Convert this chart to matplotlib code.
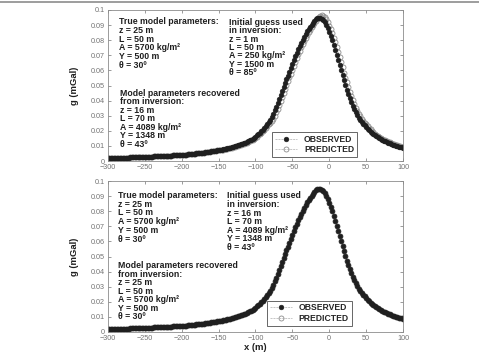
import numpy as np
import matplotlib
matplotlib.use("Agg")
import matplotlib.pyplot as plt
from matplotlib.lines import Line2D

plt.rcParams['font.family'] = ['Liberation Sans', 'DejaVu Sans']

# station positions (m), every 2 m
x = np.arange(-300, 101, 2)

# observed anomaly (mGal)
g_obs = [
    .0020, .0020, .0020, .0021, .0021, .0021, .0021, .0022, .0022, .0022,
    .0022, .0023, .0023, .0023, .0023, .0024, .0024, .0024, .0025, .0025,
    .0025, .0026, .0026, .0026, .0027, .0027, .0028, .0028, .0028, .0029,
    .0029, .0030, .0030, .0031, .0031, .0032, .0032, .0033, .0033, .0034,
    .0034, .0035, .0036, .0036, .0037, .0038, .0038, .0039, .0040, .0040,
    .0041, .0042, .0043, .0043, .0044, .0045, .0046, .0047, .0048, .0049,
    .0050, .0051, .0052, .0053, .0055, .0056, .0057, .0059, .0060, .0062,
    .0063, .0065, .0066, .0068, .0070,
    .0072, .0074, .0076, .0078, .0080, .0082, .0084, .0086, .0089, .0092,
    .0094, .0097, .0100, .0103, .0107, .0110, .0114, .0118, .0122, .0127,
    .0132, .0137, .0142, .0148, .0155,
    .0162, .0170, .0178, .0187, .0197, .0208, .0219, .0230, .0242, .0256,
    .0270, .0290, .0312, .0335, .0359, .0384, .0410, .0436, .0462, .0488,
    .0514, .0540, .0566, .0592, .0618, .0644, .0669, .0694, .0718, .0741,
    .0763, .0784, .0804, .0823, .0841, .0858, .0873, .0887, .0902, .0916,
    .0928, .0938, .0946, .0950, .0949, .0943, .0933, .0919, .0901, .0880,
    .0856, .0830, .0801, .0770, .0738, .0705, .0671, .0637, .0603, .0569,
    .0536, .0504, .0473, .0443, .0414, .0388, .0364, .0342, .0322, .0304,
    .0288, .0273, .0260, .0248, .0236, .0225, .0214, .0204, .0195, .0186,
    .0178, .0170, .0163, .0157, .0151, .0145, .0140, .0135, .0130, .0125,
    .0121, .0117, .0113, .0109, .0106, .0102, .0099, .0096, .0093, .0090, .0087,
]

# predicted from the initial guess run (top panel)
g_pred_top = [
    .0020, .0020, .0020, .0021, .0021, .0021, .0021, .0022, .0022, .0022,
    .0022, .0023, .0023, .0023, .0023, .0024, .0024, .0024, .0025, .0025,
    .0025, .0026, .0026, .0026, .0027, .0027, .0028, .0028, .0028, .0029,
    .0029, .0030, .0030, .0031, .0031, .0032, .0032, .0033, .0033, .0034,
    .0034, .0035, .0036, .0036, .0037, .0038, .0038, .0039, .0040, .0040,
    .0041, .0042, .0043, .0043, .0044, .0045, .0046, .0047, .0048, .0049,
    .0050, .0051, .0052, .0053, .0055, .0056, .0057, .0059, .0060, .0062,
    .0063, .0065, .0066, .0068, .0070,
    .0070, .0072, .0074, .0076, .0078, .0080, .0082, .0084, .0086, .0089,
    .0092, .0094, .0097, .0100, .0103, .0107, .0110, .0114, .0118, .0122,
    .0127, .0132, .0137, .0142, .0148,
    .0155, .0162, .0170, .0178, .0187, .0197, .0208, .0219, .0230, .0242,
    .0249, .0263, .0280, .0301, .0323, .0347, .0371, .0397, .0423, .0449,
    .0475, .0501, .0527, .0553, .0579, .0605, .0631, .0656, .0681, .0706,
    .0731, .0754, .0776, .0797, .0817, .0836, .0854, .0870, .0886, .0901,
    .0915, .0928, .0940, .0951, .0960, .0965, .0963, .0954, .0939, .0920,
    .0897, .0872, .0845, .0816, .0786, .0754, .0722, .0688, .0654, .0620,
    .0586, .0552, .0520, .0488, .0458, .0428, .0401, .0376, .0353, .0332,
    .0313, .0296, .0280, .0266, .0254, .0242, .0230, .0219, .0209, .0199,
    .0190, .0182, .0174, .0167, .0160, .0154, .0148, .0142, .0137, .0132,
    .0127, .0123, .0119, .0115, .0111, .0107, .0104, .0100, .0097, .0094, .0091,
]

# after the final inversion the prediction falls on the observed values
g_pred_bottom = list(g_obs)

xticks = [-300, -250, -200, -150, -100, -50, 0, 50, 100]
yticks = [0, 0.01, 0.02, 0.03, 0.04, 0.05, 0.06, 0.07, 0.08, 0.09, 0.1]
ytick_labels = ['0', '0.01', '0.02', '0.03', '0.04', '0.05', '0.06',
                '0.07', '0.08', '0.09', '0.1']

true_txt = ['True model parameters:', 'z = 25 m', 'L = 50 m',
            'A = 5700 kg/m\u00b2', 'Y = 500 m', '\u03b8 = 30\u00ba']
init_top = ['Initial guess used', 'in inversion:', 'z = 1 m', 'L = 50 m',
            'A = 250 kg/m\u00b2', 'Y = 1500 m', '\u03b8 = 85\u00ba']
rec_top = ['Model parameters recovered', 'from inversion:', 'z = 16 m',
           'L = 70 m', 'A = 4089 kg/m\u00b2', 'Y = 1348 m', '\u03b8 = 43\u00ba']
init_bot = ['Initial guess used', 'in inversion:', 'z = 16 m', 'L = 70 m',
            'A = 4089 kg/m\u00b2', 'Y = 1348 m', '\u03b8 = 43\u00ba']
rec_bot = ['Model parameters recovered', 'from inversion:', 'z = 25 m',
           'L = 50 m', 'A = 5700 kg/m\u00b2', 'Y = 500 m', '\u03b8 = 30\u00ba']

W, H = 479, 352
fig = plt.figure(figsize=(W / 100, H / 100), dpi=100)

# thin page border at the very top
fig.add_artist(Line2D([0, 1], [1 - 1.5 / H, 1 - 1.5 / H], color='0.55', lw=1.2))


def block(lines, px, py, step):
    for i, s in enumerate(lines):
        fig.text(px / W, 1 - (py + i * step) / H, s, fontsize=6.3,
                 fontweight='bold', va='center', ha='left', color='0.12')


def panel(rect, pred, leg_xy):
    ax = fig.add_axes(rect)
    ax.plot(x, pred, linestyle='--', color='0.6', lw=0.4, marker='o',
            markersize=3.6, markerfacecolor='none', markeredgecolor='0.55',
            markeredgewidth=0.6, label='PREDICTED')
    ax.plot(x, g_obs, linestyle='--', color='0.6', lw=0.4, marker='o',
            markersize=3.4, markerfacecolor='0.12', markeredgecolor='0.12',
            markeredgewidth=0.4, label='OBSERVED')
    ax.set_xlim(-300, 100)
    ax.set_ylim(0, 0.1)
    ax.set_xticks(xticks)
    ax.set_yticks(yticks)
    ax.set_yticklabels(ytick_labels)
    ax.tick_params(direction='in', length=2.5, width=0.5, labelsize=5.2,
                   colors='0.45', top=True, right=True, pad=2)
    for sp in ax.spines.values():
        sp.set_color('0.55')
        sp.set_linewidth(0.6)
    h, l = ax.get_legend_handles_labels()
    leg = ax.legend(h[::-1], l[::-1], loc='lower left', bbox_to_anchor=leg_xy,
                    prop={'weight': 'bold', 'size': 6.2}, fancybox=False,
                    edgecolor='0.3', framealpha=1, borderpad=0.3,
                    labelspacing=0.2, handlelength=2.6, handletextpad=0.8,
                    borderaxespad=0)
    leg.get_frame().set_linewidth(0.6)
    for t in leg.get_texts():
        t.set_color('0.15')
    ax.set_ylabel('g (mGal)', fontsize=6.8, fontweight='bold', labelpad=9,
                  color='0.12')
    return ax


ax1 = panel([108 / W, 1 - 161 / H, 295 / W, 151 / H], g_pred_top, (0.556, 0.026))
ax2 = panel([108 / W, 1 - 332 / H, 295 / W, 151 / H], g_pred_bottom, (0.539, 0.042))
ax2.set_xlabel('x (m)', fontsize=6.8, fontweight='bold', labelpad=1,
               color='0.12')

block(true_txt, 119, 22, 8.6)
block(init_top, 229, 22.3, 8.4)
block(rec_top, 120, 93, 8.55)
block(true_txt, 118, 195.3, 8.8)
block(init_bot, 227, 196, 8.55)
block(rec_bot, 118.5, 265.7, 8.5)

fig.savefig('out.png', dpi=100)
